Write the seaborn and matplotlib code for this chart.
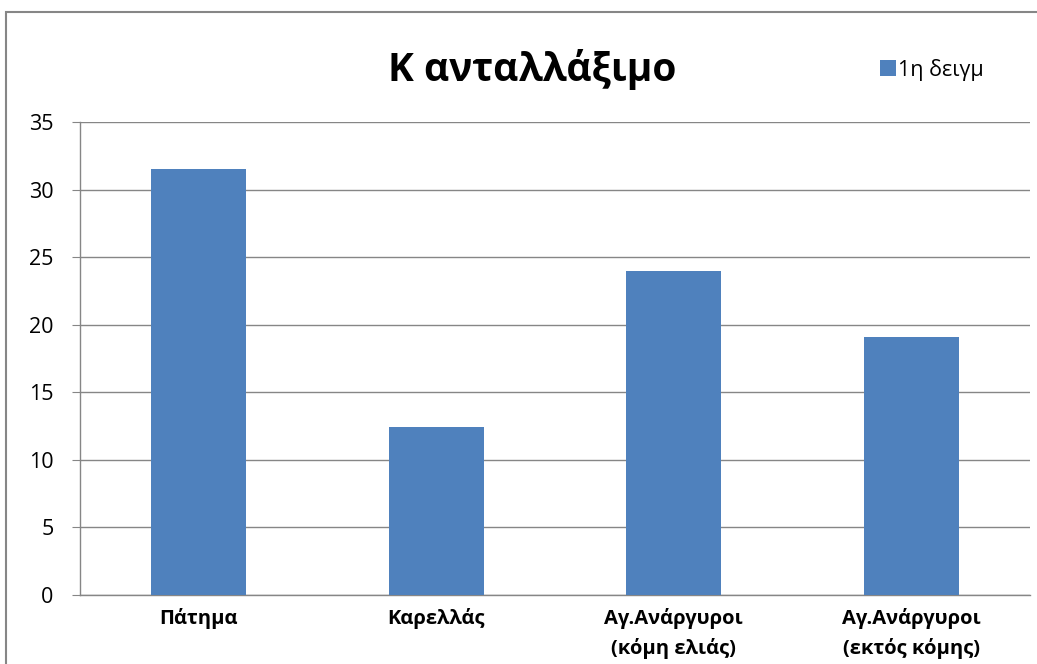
import pandas as pd
import seaborn as sns
import matplotlib.pyplot as plt
from matplotlib.patches import Rectangle

# data
categories = ['Πάτημα', 'Καρελλάς', 'Αγ.Ανάργυροι\n(κόμη ελιάς)', 'Αγ.Ανάργυροι\n(εκτός κόμης)']
values = [31.5, 12.4, 24.0, 19.1]
series_name = '1η δειγμ'
yticks = [0, 5, 10, 15, 20, 25, 30, 35]

df = pd.DataFrame({'site': categories, 'value': values})

sns.set_style('white')
plt.rcParams['font.family'] = ['Open Sans', 'DejaVu Sans']
plt.rcParams['text.color'] = 'black'
plt.rcParams['xtick.labelcolor'] = 'black'
plt.rcParams['ytick.labelcolor'] = 'black'

fig = plt.figure(figsize=(10.37, 6.64), dpi=100)
ax = fig.add_axes([0.0771, 0.1039, 0.9161, 0.7124])

sns.barplot(data=df, x='site', y='value', color='#4F81BD', width=0.4,
            saturation=1, linewidth=0, ax=ax, label=series_name, zorder=3)

ax.set_ylim(0, 35)
ax.set_yticks(yticks)
ax.set_xlim(-0.5, len(categories) - 0.5)
ax.yaxis.grid(True, color='#868686', linewidth=1, zorder=0)
ax.set_xlabel('')
ax.set_ylabel('')
for s in ['top', 'right']:
    ax.spines[s].set_visible(False)
for s in ['left', 'bottom']:
    ax.spines[s].set_color('#868686')
    ax.spines[s].set_linewidth(1)
ax.tick_params(axis='y', length=6, color='#868686', labelsize=15.5, pad=13, left=True)
ax.tick_params(axis='x', length=0, labelsize=14.5, pad=9)
for t in ax.get_xticklabels():
    t.set_fontweight('bold')
    t.set_linespacing(1.6)

fig.text(0.513, 0.895, 'Κ ανταλλάξιμο', ha='center', va='center',
         fontsize=28, fontweight='bold')
leg = ax.legend(loc='center left', bbox_to_anchor=(0.842, 1.1106), frameon=False,
                fontsize=15.5, handlelength=0.75, handleheight=0.8, handletextpad=0.1,
                borderaxespad=0, borderpad=0)

# chart area border
fig.patches.append(Rectangle((5.5 / 1037, -0.1), 1.2, 1.1 - 12 / 664,
                             transform=fig.transFigure, fill=False,
                             edgecolor='#868686', linewidth=1.5))

fig.savefig('out.png', dpi=100, facecolor='white')
